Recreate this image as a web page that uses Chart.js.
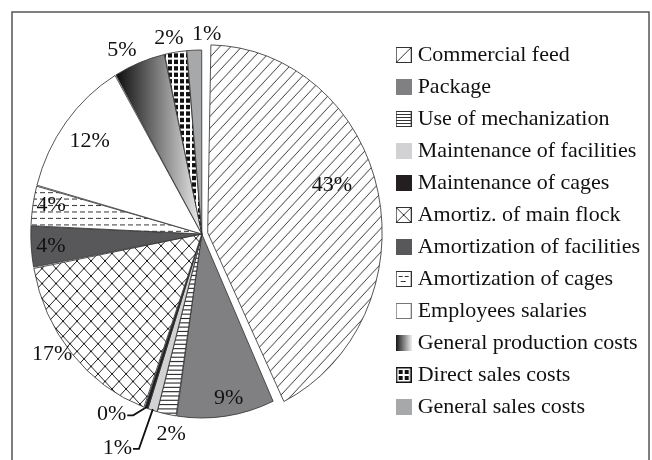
<!DOCTYPE html>
<html>
<head>
<meta charset="utf-8">
<script src="https://cdn.jsdelivr.net/npm/chart.js@4.4.0/dist/chart.umd.min.js"></script>
<style>
  html, body { margin: 0; padding: 0; background: #fff; }
</style>
</head>
<body>
<canvas id="costChart" width="652" height="460"></canvas>
<script>
// cost structure of the farm, share of total costs (%)
const categories = [
  'Commercial feed', 'Package', 'Use of mechanization', 'Maintenance of facilities',
  'Maintenance of cages', 'Amortiz. of main flock', 'Amortization of facilities',
  'Amortization of cages', 'Employees salaries', 'General production costs',
  'Direct sales costs', 'General sales costs'
];
const shares = [43.1, 9.3, 1.8, 0.9, 0.3, 16.7, 3.6, 3.5, 12.4, 4.9, 2.1, 1.4];
const pctLabels = shares.map(v => Math.round(v) + '%');

// label placement: [radius factor, angle shift in deg], and which ones get a leader line
const labelPlace = [[0.81, -6.8], [0.91, -1.9], [1.11, -2.5], [1.27, 6.3], [1.12, 9.4], [1.10, 3.7],
                    [0.89, -0.5], [0.90, 1.3], [0.83, 0], [1.11, -3.6], [1.09, -1.4], [1.09, 4]];
const withLeader = [false, false, false, true, true, false, false, false, false, false, false, false];
const yStretch = 1.076; // the original pie is slightly taller than wide

const canvas = document.getElementById('costChart');
const ctx = canvas.getContext('2d');

function tile(w, h, draw) {
  const c = document.createElement('canvas');
  c.width = w; c.height = h;
  const g = c.getContext('2d');
  g.fillStyle = '#fff';
  g.fillRect(0, 0, w, h);
  draw(g, w, h);
  return c;
}

const diagTile = tile(11, 11, (g, w, h) => {
  g.strokeStyle = '#222'; g.lineWidth = 0.9;
  g.beginPath();
  g.moveTo(-1, h + 1); g.lineTo(w + 1, -1);
  g.moveTo(-2, 1); g.lineTo(1, -2);
  g.moveTo(w - 1, h + 2); g.lineTo(w + 2, h - 1);
  g.stroke();
});
const hlineTile = tile(4, 4, (g) => { g.fillStyle = '#222'; g.fillRect(0, 0, 4, 1); });
const crossTile = tile(14, 14, (g, w, h) => {
  g.strokeStyle = '#222'; g.lineWidth = 1;
  g.beginPath();
  g.moveTo(0, 0); g.lineTo(w, h);
  g.moveTo(0, h); g.lineTo(w, 0);
  g.stroke();
});
const dashTile = tile(8, 6, (g) => { g.fillStyle = '#444'; g.fillRect(0, 3, 5, 1); });
const checkTile = tile(6, 6, (g) => { g.fillStyle = '#111'; g.fillRect(0, 0, 4, 4); });

const fills = [
  ctx.createPattern(diagTile, 'repeat'), '#808083', ctx.createPattern(hlineTile, 'repeat'), '#d2d2d4',
  '#231f20', ctx.createPattern(crossTile, 'repeat'), '#58585a', ctx.createPattern(dashTile, 'repeat'),
  '#ffffff', null, ctx.createPattern(checkTile, 'repeat'), '#a7a8aa'
];

// legend swatches
function swatch(draw) {
  const c = document.createElement('canvas');
  c.width = 16; c.height = 16;
  draw(c.getContext('2d'));
  return c;
}
function boxed(g) { g.strokeStyle = '#333'; g.lineWidth = 1; g.strokeRect(0.5, 0.5, 15, 15); }
const swatches = [
  swatch(g => { g.fillStyle = '#fff'; g.fillRect(0, 0, 16, 16); boxed(g); g.beginPath(); g.moveTo(1, 15); g.lineTo(15, 1); g.stroke(); }),
  swatch(g => { g.fillStyle = '#808083'; g.fillRect(0, 0, 16, 16); }),
  swatch(g => { g.fillStyle = '#fff'; g.fillRect(0, 0, 16, 16); boxed(g); for (let y = 3.5; y < 15; y += 3) { g.beginPath(); g.moveTo(1, y); g.lineTo(15, y); g.stroke(); } }),
  swatch(g => { g.fillStyle = '#d2d2d4'; g.fillRect(0, 0, 16, 16); }),
  swatch(g => { g.fillStyle = '#231f20'; g.fillRect(0, 0, 16, 16); }),
  swatch(g => { g.fillStyle = '#fff'; g.fillRect(0, 0, 16, 16); boxed(g); g.beginPath(); g.moveTo(1, 1); g.lineTo(15, 15); g.moveTo(1, 15); g.lineTo(15, 1); g.stroke(); }),
  swatch(g => { g.fillStyle = '#58585a'; g.fillRect(0, 0, 16, 16); }),
  swatch(g => { g.fillStyle = '#fff'; g.fillRect(0, 0, 16, 16); boxed(g); g.fillStyle = '#333'; g.fillRect(3, 5, 4, 1); g.fillRect(9, 5, 4, 1); g.fillRect(5, 10, 5, 1); }),
  swatch(g => { g.fillStyle = '#fff'; g.fillRect(0, 0, 16, 16); g.strokeStyle = '#777'; g.lineWidth = 1; g.strokeRect(0.5, 0.5, 15, 15); }),
  swatch(g => { const gr = g.createLinearGradient(0, 0, 16, 0); gr.addColorStop(0, '#111'); gr.addColorStop(1, '#eee'); g.fillStyle = gr; g.fillRect(0, 0, 16, 16); }),
  swatch(g => { g.fillStyle = '#fff'; g.fillRect(0, 0, 16, 16); g.fillStyle = '#111'; g.fillRect(0, 0, 16, 1.5); g.fillRect(0, 14.5, 16, 1.5); g.fillRect(0, 0, 1.5, 16); g.fillRect(14.5, 0, 1.5, 16); g.fillRect(3, 3, 4, 4); g.fillRect(9, 3, 4, 4); g.fillRect(3, 9, 4, 4); g.fillRect(9, 9, 4, 4); }),
  swatch(g => { g.fillStyle = '#a7a8aa'; g.fillRect(0, 0, 16, 16); })
];

// gradient for "General production costs": dark on the left edge of the slice, light towards the centre
function sliceFill(c) {
  const i = c.dataIndex;
  if (i !== 9) return fills[i];
  const area = c.chart.chartArea;
  if (!area) return '#888';
  const cx = (area.left + area.right) / 2;
  const before = shares.slice(0, i).reduce((a, b) => a + b, 0);
  const start = before / 100 * 2 * Math.PI;
  const x0 = cx + c.chart.options.radius * Math.sin(start);
  const gr = c.chart.ctx.createLinearGradient(x0, 0, cx, 0);
  gr.addColorStop(0, '#0d0d0d');
  gr.addColorStop(1, '#eeeeee');
  return gr;
}

const framePlugin = {
  id: 'frame',
  beforeDraw(chart) {
    const c = chart.ctx;
    c.save();
    c.strokeStyle = '#555';
    c.lineWidth = 1.5;
    c.strokeRect(12, 12, 637, 460);
    c.restore();
  }
};

const piePlugin = {
  id: 'pieStretch',
  beforeDatasetsDraw(chart) {
    const arc = chart.getDatasetMeta(0).data[0];
    const c = chart.ctx;
    c.save();
    c.translate(arc.x, arc.y);
    c.scale(1, yStretch);
    c.translate(-arc.x, -arc.y);
  },
  afterDatasetsDraw(chart) {
    const c = chart.ctx;
    c.restore();
    const arcs = chart.getDatasetMeta(0).data;
    c.save();
    c.font = '22px "Liberation Serif", "Times New Roman", serif';
    c.fillStyle = '#111';
    c.strokeStyle = '#111';
    c.textAlign = 'center';
    c.textBaseline = 'middle';
    arcs.forEach((arc, i) => {
      const [f, shift] = labelPlace[i];
      const mid = (arc.startAngle + arc.endAngle) / 2;
      const t = mid + shift * Math.PI / 180;
      const r = arc.outerRadius;
      const x = arc.x + r * f * Math.cos(t);
      const y = arc.y + r * f * Math.sin(t) * yStretch;
      c.fillText(pctLabels[i], x, y);
      if (withLeader[i]) {
        const w = c.measureText(pctLabels[i]).width;
        const ex = arc.x + r * Math.cos(mid);
        const ey = arc.y + r * Math.sin(mid) * yStretch;
        c.lineWidth = 1.8;
        c.beginPath();
        c.moveTo(x + w / 2 + 1, y + 1);
        c.lineTo(x + w / 2 + 7, y + 1);
        c.lineTo(ex, ey);
        c.stroke();
      }
    });
    c.restore();
  }
};

new Chart(ctx, {
  type: 'pie',
  data: {
    labels: categories,
    datasets: [{
      data: shares,
      backgroundColor: sliceFill,
      borderColor: '#333',
      borderWidth: 0.8,
      offset: [24, 0, 0, 0, 0, 0, 0, 0, 0, 0, 0, 0],
      spacing: 2
    }]
  },
  options: {
    responsive: false,
    animation: false,
    radius: 170,
    color: '#111',
    layout: { padding: { left: 13, right: 2, top: 20, bottom: 12 } },
    plugins: {
      legend: {
        position: 'right',
        align: 'start',
        title: { display: true, text: '', color: '#111', font: { size: 10 }, padding: { top: 1, bottom: 1 } },
        labels: {
          usePointStyle: true,
          pointStyleWidth: 6,
          padding: 10,
          color: '#111',
          font: { family: '"Liberation Serif", "Times New Roman", serif', size: 22 },
          generateLabels: () => categories.map((name, i) => ({
            text: name,
            pointStyle: swatches[i],
            fillStyle: '#fff',
            strokeStyle: '#fff',
            fontColor: '#111',
            lineWidth: 0,
            hidden: false,
            index: i,
            datasetIndex: 0
          }))
        }
      },
      tooltip: { enabled: false }
    }
  },
  plugins: [framePlugin, piePlugin]
});
</script>
</body>
</html>
